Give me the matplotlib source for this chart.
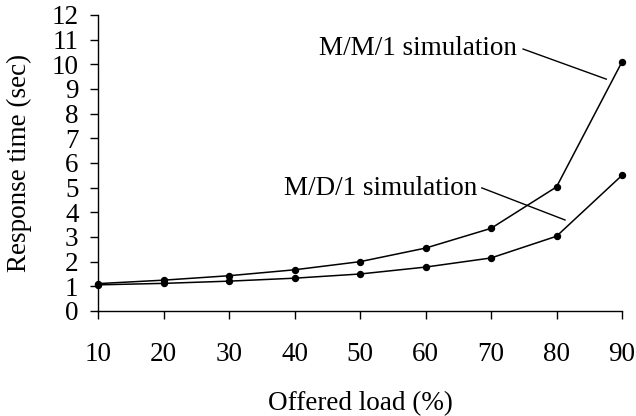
import matplotlib
matplotlib.use("Agg")
import matplotlib.pyplot as plt

# offered load (%) and response times
load = [10, 20, 30, 40, 50, 60, 70, 80, 90]
mm1 = [1.11, 1.25, 1.43, 1.67, 2.0, 2.55, 3.35, 5.03, 10.1]
md1 = [1.06, 1.12, 1.21, 1.33, 1.5, 1.78, 2.15, 3.03, 5.5]
yticks = list(range(0, 13))

plt.rcParams['font.family'] = ['Liberation Serif', 'DejaVu Serif']
plt.rcParams['font.size'] = 19.5

fig = plt.figure(figsize=(6.36, 4.16), dpi=100)
ax = fig.add_axes([98 / 636, 1 - 311 / 416, (622 - 98) / 636, (311 - 15) / 416])

ax.plot(load, mm1, color="black", lw=1.1, marker="o", ms=4.3, clip_on=False)
ax.plot(load, md1, color="black", lw=1.1, marker="o", ms=4.3, clip_on=False)

ax.set_xlim(10, 90)
ax.set_ylim(0, 12)
ax.set_xticks(load)
ax.set_yticks(yticks)
ax.tick_params(axis="x", direction="out", length=6, width=1, pad=16)
ax.tick_params(axis="y", direction="out", length=6, width=1, pad=8)
for s in ("top", "right"):
    ax.spines[s].set_visible(False)
ax.spines["left"].set_linewidth(1)
ax.spines["bottom"].set_linewidth(1)

ax.set_xlabel("Offered load (%)", labelpad=18)
ax.set_ylabel("Response time (sec)", labelpad=14)

# callouts
ax.text(74.0, 10.38, "M/M/1 simulation", ha="right", va="baseline")
ax.plot([74.9, 87.6], [10.62, 9.40], color="black", lw=1)
ax.text(67.9, 4.70, "M/D/1 simulation", ha="right", va="baseline")
ax.plot([68.6, 81.3], [4.99, 3.69], color="black", lw=1)

fig.savefig("out.png", dpi=100)
